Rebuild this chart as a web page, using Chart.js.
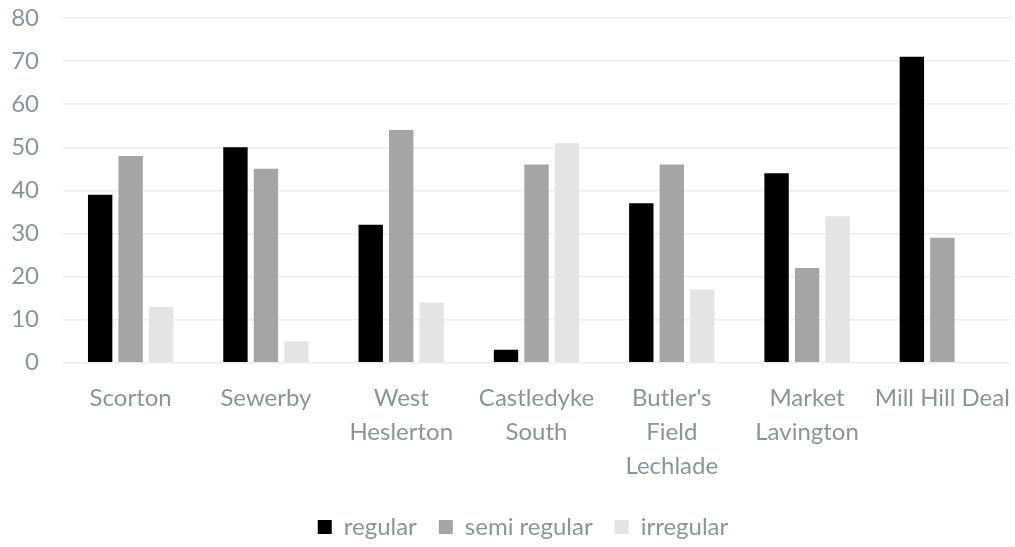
<!DOCTYPE html>
<html>
<head>
<meta charset="utf-8">
<script src="https://cdn.jsdelivr.net/npm/chart.js@4"></script>
<style>
  html, body { margin: 0; padding: 0; background: #fff; }
  .wrap { width: 1015px; height: 547px; }
</style>
</head>
<body>
<div class="wrap"><canvas id="chart" width="1015" height="547"></canvas></div>
<script>
// site names, split into lines the way the axis shows them
const sites = [
    "Scorton",
    "Sewerby",
    ["West", "Heslerton"],
    ["Castledyke", "South"],
    ["Butler's", "Field", "Lechlade"],
    ["Market", "Lavington"],
    "Mill Hill Deal"
];

const regular = [39, 50, 32, 3, 37, 44, 71];
const semi_regular = [48, 45, 54, 46, 46, 22, 29];
const irregular = [13, 5, 14, 51, 17, 34, 0];

const yTicks = [0, 10, 20, 30, 40, 50, 60, 70, 80];

const textCol = "#8a9597";

// legend sits a bit right of centre in the original
const nudgeLegend = {
    id: "nudgeLegend",
    afterLayout(chart) {
        chart.legend.left += 13;
        chart.legend.right += 13;
    }
};

const ctx = document.getElementById("chart").getContext("2d");

new Chart(ctx, {
    type: "bar",
    data: {
        labels: sites,
        datasets: [{
            label: "regular",
            data: regular,
            backgroundColor: "#000000"
        }, {
            label: "semi regular",
            data: semi_regular,
            backgroundColor: "#a5a5a5"
        }, {
            label: "irregular",
            data: irregular,
            backgroundColor: "#e4e4e4"
        }]
    },
    plugins: [nudgeLegend],
    options: {
        responsive: false,
        animation: false,
        layout: { padding: { top: 0, right: 5, left: 10, bottom: -2 } },
        datasets: {
            bar: { categoryPercentage: 0.676, barPercentage: 0.8 }
        },
        scales: {
            x: {
                // labels may hang over the edge a little, like the original
                afterFit: axis => {
                    axis.paddingLeft = 0;
                    axis.paddingRight = 0;
                },
                grid: { display: false },
                border: { display: false },
                ticks: {
                    color: textCol,
                    maxRotation: 0,
                    autoSkip: false,
                    padding: 10,
                    font: { family: "Lato", size: 24, lineHeight: 1.42 }
                }
            },
            y: {
                min: 0,
                max: 80,
                afterBuildTicks: axis => {
                    axis.ticks = yTicks.map(v => ({ value: v }));
                },
                // fixed label column + less head room, to line up with the original
                afterFit: axis => {
                    axis.width = 53;
                    axis.paddingTop = 18;
                },
                grid: { color: "#ececec", lineWidth: 1.5, drawTicks: false },
                border: { display: false },
                ticks: {
                    color: textCol,
                    padding: 24,
                    font: { family: "Lato", size: 24 }
                }
            }
        },
        plugins: {
            legend: {
                position: "bottom",
                labels: {
                    color: textCol,
                    boxWidth: 14,
                    boxHeight: 14,
                    padding: 22,
                    font: { family: "Lato", size: 24 }
                }
            },
            tooltip: { enabled: false }
        }
    }
});
</script>
</body>
</html>
